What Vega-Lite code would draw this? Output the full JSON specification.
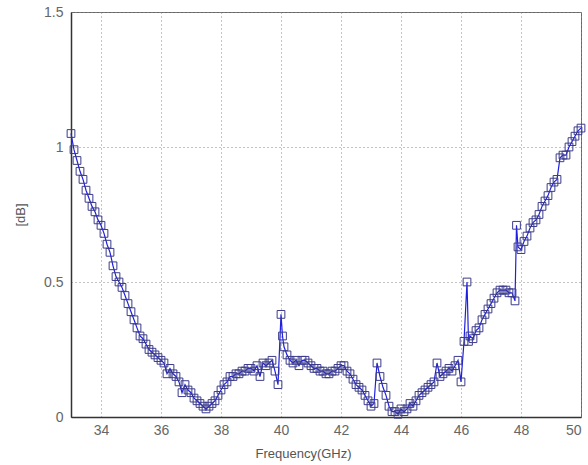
{
  "$schema": "https://vega.github.io/schema/vega-lite/v6.json",
  "width": 510,
  "height": 405,
  "autosize": {"type": "none"},
  "padding": {"left": 71, "top": 12, "right": 7, "bottom": 48},
  "background": "white",
  "config": {
    "view": {"stroke": "#666", "strokeWidth": 1},
    "axis": {
      "labelFont": "Liberation Sans",
      "labelFontSize": 14,
      "labelColor": "#666",
      "titleFont": "Liberation Sans",
      "titleFontSize": 13,
      "titleFontWeight": "normal",
      "titleColor": "#555",
      "gridColor": "#888",
      "gridDash": [1, 3],
      "gridOpacity": 1,
      "domainColor": "#333",
      "domainWidth": 1.5,
      "ticks": false
    }
  },
  "data": {
    "values": [
      {"f": 33.0, "v": 1.05}, {"f": 33.1, "v": 0.99}, {"f": 33.2, "v": 0.95}, {"f": 33.3, "v": 0.91},
      {"f": 33.4, "v": 0.88}, {"f": 33.5, "v": 0.84}, {"f": 33.6, "v": 0.81}, {"f": 33.7, "v": 0.78},
      {"f": 33.8, "v": 0.76}, {"f": 33.9, "v": 0.73}, {"f": 34.0, "v": 0.71}, {"f": 34.1, "v": 0.68},
      {"f": 34.2, "v": 0.64}, {"f": 34.3, "v": 0.61}, {"f": 34.4, "v": 0.56}, {"f": 34.5, "v": 0.52},
      {"f": 34.6, "v": 0.5}, {"f": 34.7, "v": 0.48}, {"f": 34.8, "v": 0.45}, {"f": 34.9, "v": 0.42},
      {"f": 35.0, "v": 0.39}, {"f": 35.1, "v": 0.36}, {"f": 35.2, "v": 0.33}, {"f": 35.3, "v": 0.3},
      {"f": 35.4, "v": 0.29}, {"f": 35.5, "v": 0.27}, {"f": 35.6, "v": 0.25}, {"f": 35.7, "v": 0.24},
      {"f": 35.8, "v": 0.23}, {"f": 35.9, "v": 0.22}, {"f": 36.0, "v": 0.21}, {"f": 36.1, "v": 0.2},
      {"f": 36.2, "v": 0.16}, {"f": 36.3, "v": 0.18}, {"f": 36.4, "v": 0.16}, {"f": 36.5, "v": 0.15},
      {"f": 36.6, "v": 0.13}, {"f": 36.7, "v": 0.09}, {"f": 36.8, "v": 0.12}, {"f": 36.9, "v": 0.1},
      {"f": 37.0, "v": 0.09}, {"f": 37.1, "v": 0.07}, {"f": 37.2, "v": 0.06}, {"f": 37.3, "v": 0.05},
      {"f": 37.4, "v": 0.04}, {"f": 37.5, "v": 0.03}, {"f": 37.6, "v": 0.04}, {"f": 37.7, "v": 0.05},
      {"f": 37.8, "v": 0.06}, {"f": 37.9, "v": 0.08}, {"f": 38.0, "v": 0.1}, {"f": 38.1, "v": 0.12},
      {"f": 38.2, "v": 0.13}, {"f": 38.3, "v": 0.15}, {"f": 38.4, "v": 0.15}, {"f": 38.5, "v": 0.16},
      {"f": 38.6, "v": 0.16}, {"f": 38.7, "v": 0.17}, {"f": 38.8, "v": 0.17}, {"f": 38.9, "v": 0.18},
      {"f": 39.0, "v": 0.18}, {"f": 39.1, "v": 0.17}, {"f": 39.2, "v": 0.19}, {"f": 39.3, "v": 0.15},
      {"f": 39.4, "v": 0.2}, {"f": 39.5, "v": 0.19}, {"f": 39.6, "v": 0.2}, {"f": 39.7, "v": 0.21},
      {"f": 39.8, "v": 0.17}, {"f": 39.9, "v": 0.12}, {"f": 40.0, "v": 0.38}, {"f": 40.05, "v": 0.3},
      {"f": 40.1, "v": 0.26}, {"f": 40.2, "v": 0.23}, {"f": 40.3, "v": 0.21}, {"f": 40.4, "v": 0.2},
      {"f": 40.5, "v": 0.21}, {"f": 40.6, "v": 0.19}, {"f": 40.7, "v": 0.21}, {"f": 40.8, "v": 0.21},
      {"f": 40.9, "v": 0.2}, {"f": 41.0, "v": 0.19}, {"f": 41.1, "v": 0.18}, {"f": 41.2, "v": 0.18},
      {"f": 41.3, "v": 0.17}, {"f": 41.4, "v": 0.17}, {"f": 41.5, "v": 0.16}, {"f": 41.6, "v": 0.16},
      {"f": 41.7, "v": 0.17}, {"f": 41.8, "v": 0.17}, {"f": 41.9, "v": 0.18}, {"f": 42.0, "v": 0.19},
      {"f": 42.1, "v": 0.19}, {"f": 42.2, "v": 0.17}, {"f": 42.3, "v": 0.16}, {"f": 42.4, "v": 0.14},
      {"f": 42.5, "v": 0.12}, {"f": 42.6, "v": 0.11}, {"f": 42.7, "v": 0.1}, {"f": 42.8, "v": 0.08},
      {"f": 42.9, "v": 0.06}, {"f": 43.0, "v": 0.04}, {"f": 43.1, "v": 0.05}, {"f": 43.2, "v": 0.2},
      {"f": 43.3, "v": 0.15}, {"f": 43.4, "v": 0.11}, {"f": 43.5, "v": 0.08}, {"f": 43.6, "v": 0.04},
      {"f": 43.7, "v": 0.02}, {"f": 43.8, "v": 0.02}, {"f": 43.9, "v": 0.01}, {"f": 44.0, "v": 0.03},
      {"f": 44.1, "v": 0.02}, {"f": 44.2, "v": 0.03}, {"f": 44.3, "v": 0.05}, {"f": 44.4, "v": 0.04},
      {"f": 44.5, "v": 0.06}, {"f": 44.6, "v": 0.08}, {"f": 44.7, "v": 0.09}, {"f": 44.8, "v": 0.1},
      {"f": 44.9, "v": 0.11}, {"f": 45.0, "v": 0.12}, {"f": 45.1, "v": 0.13}, {"f": 45.2, "v": 0.2},
      {"f": 45.3, "v": 0.15}, {"f": 45.4, "v": 0.16}, {"f": 45.5, "v": 0.17}, {"f": 45.6, "v": 0.18},
      {"f": 45.7, "v": 0.17}, {"f": 45.8, "v": 0.19}, {"f": 45.9, "v": 0.21}, {"f": 46.0, "v": 0.13},
      {"f": 46.1, "v": 0.28}, {"f": 46.2, "v": 0.5}, {"f": 46.25, "v": 0.28}, {"f": 46.3, "v": 0.3},
      {"f": 46.4, "v": 0.29}, {"f": 46.5, "v": 0.32}, {"f": 46.6, "v": 0.33}, {"f": 46.7, "v": 0.36},
      {"f": 46.8, "v": 0.38}, {"f": 46.9, "v": 0.4}, {"f": 47.0, "v": 0.42}, {"f": 47.1, "v": 0.44},
      {"f": 47.2, "v": 0.46}, {"f": 47.3, "v": 0.47}, {"f": 47.4, "v": 0.47}, {"f": 47.5, "v": 0.47},
      {"f": 47.6, "v": 0.46}, {"f": 47.7, "v": 0.46}, {"f": 47.8, "v": 0.43}, {"f": 47.85, "v": 0.71},
      {"f": 47.9, "v": 0.63}, {"f": 48.0, "v": 0.62}, {"f": 48.1, "v": 0.65}, {"f": 48.2, "v": 0.67},
      {"f": 48.3, "v": 0.7}, {"f": 48.4, "v": 0.72}, {"f": 48.5, "v": 0.73}, {"f": 48.6, "v": 0.75},
      {"f": 48.7, "v": 0.78}, {"f": 48.8, "v": 0.8}, {"f": 48.9, "v": 0.82}, {"f": 49.0, "v": 0.85},
      {"f": 49.1, "v": 0.87}, {"f": 49.2, "v": 0.88}, {"f": 49.3, "v": 0.96}, {"f": 49.4, "v": 0.97},
      {"f": 49.5, "v": 0.97}, {"f": 49.6, "v": 1.0}, {"f": 49.7, "v": 1.02}, {"f": 49.8, "v": 1.04},
      {"f": 49.9, "v": 1.06}, {"f": 50.0, "v": 1.07}
    ]
  },
  "encoding": {
    "x": {
      "field": "f", "type": "quantitative",
      "scale": {"domain": [33, 50], "nice": false, "zero": false},
      "axis": {"values": [34, 36, 38, 40, 42, 44, 46, 48, 50], "title": "Frequency(GHz)",
        "labelPadding": 6, "titleX": 232, "titleY": 30, "titleBaseline": "top", "titleAnchor": "middle"}
    },
    "y": {
      "field": "v", "type": "quantitative",
      "scale": {"domain": [0, 1.5], "nice": false},
      "axis": {"values": [0, 0.5, 1, 1.5], "format": "~g", "title": "[dB]", "labelPadding": 8,
        "titleX": -51, "titleBaseline": "middle", "titleAnchor": "middle"}
    }
  },
  "layer": [
    {"mark": {"type": "line", "color": "#2020e0", "strokeWidth": 1.2}},
    {"mark": {"type": "point", "shape": "square", "size": 60, "filled": false, "stroke": "#3b3b8a", "strokeWidth": 1, "opacity": 1}}
  ]
}
